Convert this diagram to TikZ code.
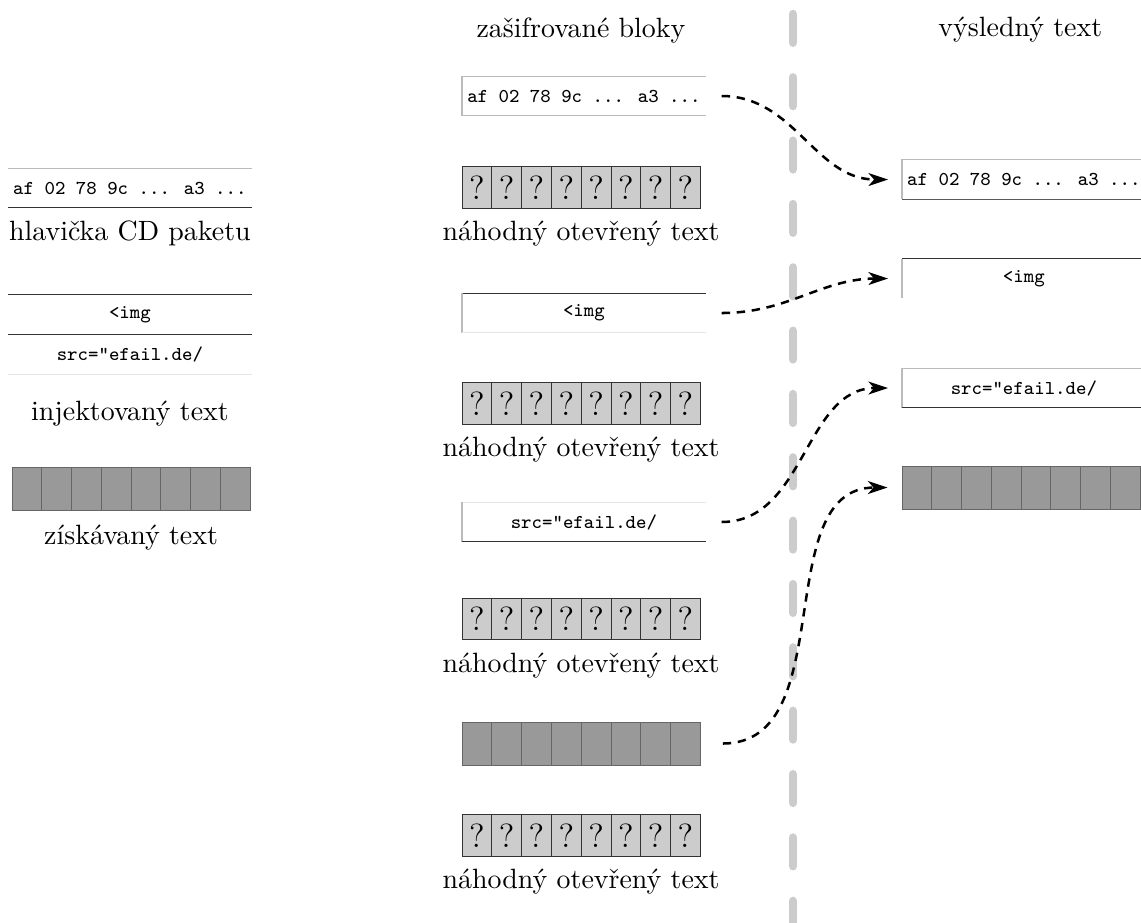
\documentclass[tikz,border=0pt]{standalone}
\usepackage{tikz}
\usetikzlibrary{positioning, fit, arrows.meta}
\definecolor{cell_grey}{HTML}{CCCCCC}
\definecolor{secret_grey}{HTML}{999999}
\definecolor{sep_grey}{HTML}{CCCCCC}
\definecolor{line_dark}{HTML}{333333}
\definecolor{line_light}{HTML}{BBBBBB}
\definecolor{line_faint}{HTML}{E6E6E6}

\newcommand{\blocktt}{\ttfamily\fontsize{7.05}{9}\selectfont}
% row of 8 cells: name, west point, cell style, content
\newcommand{\cellrow}[4]{%
  \node[#3, anchor=west] (#1-1) at (#2) {#4};
  \foreach \i [remember=\i as \j (initially 1)] in {2,...,8}
    \node[#3, right=0pt of #1-\j] (#1-\i) {#4};
  \node[fit=(#1-1)(#1-8), inner sep=0pt] (#1) {};
}

\tikzset{
  textblock/.style={minimum width=3.07cm, minimum height=0.5cm, inner sep=0pt, outer sep=0pt, font=\blocktt},
  qcell/.style={draw=line_dark, line width=0.3pt, fill=cell_grey, minimum width=0.375cm, minimum height=0.52cm, inner sep=0pt, outer sep=0pt, font=\large},
  scell/.style={draw=black!60, line width=0.3pt, fill=secret_grey, minimum width=0.375cm, minimum height=0.54cm, inner sep=0pt, outer sep=0pt},
  edge_dark/.style={line_dark, line width=0.4pt},
  edge_light/.style={line_light, line width=0.4pt},
  edge_faint/.style={line_faint, line width=0.4pt},
  leak/.style={->, line width=0.9pt, dash pattern=on 3pt off 2.4pt}
}

\begin{document}
\begin{tikzpicture}[>={Stealth[length=7pt, width=4.6pt, inset=2pt]}]
  \useasboundingbox (0,0) rectangle (14.37,-11.62);

  % left column
  \node[textblock, anchor=west] (hdr) at (0.101,-2.368) {af 02 78 9c ... a3 ...};
  \draw[edge_light] (hdr.north west) -- (hdr.north east);
  \draw[edge_dark] (hdr.south west) -- (hdr.south east);
  \node[below=1pt of hdr] (hdrlabel) {hlavička CD paketu};

  \node[textblock, anchor=west] (injimg) at (0.101,-3.961) {<img};
  \node[textblock, below=0pt of injimg] (injsrc) {src="efail.de/};
  \draw[edge_dark] (injimg.north west) -- (injimg.north east);
  \draw[edge_dark] (injimg.south west) -- (injimg.south east);
  \draw[edge_faint] (injsrc.south west) -- (injsrc.south east);
  \node[below=6pt of injsrc] (injlabel) {injektovaný text};

  \cellrow{sec}{0.151,-6.159}{scell}{}
  \node[below=1.5pt of sec] (seclabel) {získávaný text};

  % middle column
  \node (enctitle) at (7.317,-0.378) {zašifrované bloky};

  \node[textblock, anchor=west] (encaf) at (5.819,-1.209) {af 02 78 9c ... a3 ...};
  \draw[edge_light] (encaf.north east) -- (encaf.north west) -- (encaf.south west) -- (encaf.south east);

  \cellrow{encqa}{5.819,-2.361}{qcell}{?}
  \node[below=1pt of encqa] {náhodný otevřený text};

  \node[textblock, anchor=west] (encimg) at (5.819,-3.942) {<img};
  \draw[edge_dark] (encimg.north west) -- (encimg.north east);
  \draw[edge_light] (encimg.north west) -- (encimg.south west);
  \draw[edge_faint] (encimg.south west) -- (encimg.south east);

  \cellrow{encqb}{5.819,-5.082}{qcell}{?}
  \node[below=1pt of encqb] {náhodný otevřený text};

  \node[textblock, anchor=west] (encsrc) at (5.819,-6.574) {src="efail.de/};
  \draw[edge_faint] (encsrc.north west) -- (encsrc.north east);
  \draw[edge_light] (encsrc.north west) -- (encsrc.south west);
  \draw[edge_dark] (encsrc.south west) -- (encsrc.south east);

  \cellrow{encqc}{5.819,-7.796}{qcell}{?}
  \node[below=1pt of encqc] {náhodný otevřený text};

  \cellrow{encsec}{5.819,-9.364}{scell}{}

  \cellrow{encqd}{5.819,-10.523}{qcell}{?}
  \node[below=1pt of encqd] {náhodný otevřený text};

  % separator
  \coordinate (septop) at (9.987,-0.176);
  \coordinate (sepbot) at (9.987,-11.7);
  \draw[sep_grey, line width=3pt, line cap=round, dash pattern=on 10.3pt off 12.4pt] (septop) -- (sepbot);

  % right column
  \node (outtitle) at (12.85,-0.378) {výsledný text};

  \node[textblock, anchor=west] (outaf) at (11.36,-2.261) {af 02 78 9c ... a3 ...};
  \draw[edge_light] (outaf.north east) -- (outaf.north west) -- (outaf.south west);
  \draw[black!65, line width=0.4pt] (outaf.south west) -- (outaf.south east);

  \node[textblock, anchor=west] (outimg) at (11.36,-3.508) {<img};
  \draw[edge_dark] (outimg.north west) -- (outimg.north east);
  \draw[edge_light] (outimg.north west) -- (outimg.south west);

  \node[textblock, anchor=west] (outsrc) at (11.36,-4.887) {src="efail.de/};
  \draw[edge_light] (outsrc.north east) -- (outsrc.north west) -- (outsrc.south west);
  \draw[edge_dark] (outsrc.south west) -- (outsrc.south east);

  \cellrow{outsec}{11.36,-6.14}{scell}{}

  % arrows
  \draw[leak] ([xshift=0.2cm]encaf.east) to[out=0, in=180] ([xshift=-0.176cm]outaf.west);
  \draw[leak] ([xshift=0.2cm]encimg.east) to[out=0, in=180] ([xshift=-0.176cm]outimg.west);
  \draw[leak] ([xshift=0.2cm]encsrc.east) to[out=0, in=180] ([xshift=-0.176cm]outsrc.west);
  \draw[leak] ([xshift=0.277cm]encsec.east) to[out=0, in=180] ([xshift=-0.176cm]outsec.west);

\end{tikzpicture}
\end{document}
